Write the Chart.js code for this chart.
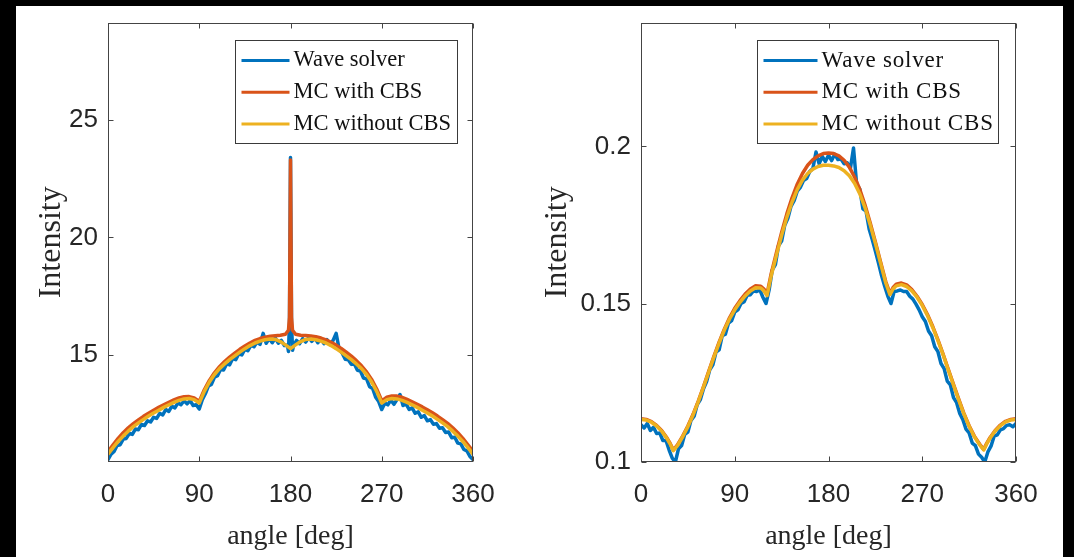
<!DOCTYPE html>
<html>
<head>
<meta charset="utf-8">
<script src="https://cdn.jsdelivr.net/npm/chart.js@4.4.1/dist/chart.umd.min.js"></script>
<style>
html, body { margin: 0; padding: 0; background: #000; }
body { width: 1074px; height: 557px; position: relative; overflow: hidden; }
#paper { position: absolute; left: 16px; top: 6px; width: 1047px; height: 551px; background: #fff; }
canvas { position: absolute; top: -3px; }
#leftPlot { left: 16px; }
#rightPlot { left: 536px; }
</style>
</head>
<body>
<div id="paper"></div>
<canvas id="leftPlot" width="520" height="560"></canvas>
<canvas id="rightPlot" width="527" height="560"></canvas>
<script>
// ticks and series names
const angleTicks = [0, 90, 180, 270, 360];
const leftIntensityTicks = [15, 20, 25];
const rightIntensityTicks = [0.1, 0.15, 0.2];
const seriesLabels = ['Wave solver', 'MC with CBS', 'MC without CBS'];
const seriesColors = ['#0072BD', '#D95319', '#EDB120'];

// ---- left panel ----
const leftWaveAngles = [0,3,6,9,12,15,18,21,24,27,30,33,36,39,42,45,48,51,54,57,60,63,66,69,72,75,78,81,84,87,
  90,93,96,99,102,105,108,111,114,117,120,123,126,129,132,135,138,141,144,147,150,153,156,159,162,165,168,171,174,177,
  178,179,180,181,182,
  183,186,189,192,195,198,201,204,207,210,213,216,219,222,225,228,231,234,237,240,243,246,249,252,255,258,261,264,267,270,
  273,276,279,282,285,288,291,294,297,300,303,306,309,312,315,318,321,324,327,330,333,336,339,342,345,348,351,354,357,360];
const leftWave = [10.55,10.78,10.90,11.15,11.18,11.42,11.45,11.66,11.62,11.85,
  11.82,12.05,12.00,12.20,12.15,12.35,12.30,12.52,12.45,12.68,
  12.60,12.82,12.75,12.96,12.88,13.05,12.92,13.06,12.85,12.88,
  12.70,13.10,13.35,13.68,13.75,14.05,14.12,14.38,14.36,14.62,
  14.58,14.85,14.80,15.05,15.00,15.25,15.18,15.42,15.35,15.55,
  15.45,15.92,15.50,15.70,15.52,15.72,15.50,15.62,15.40,15.42,
  15.15,16.4,23.4,16.4,15.2,
  15.40,15.62,15.48,15.70,15.55,15.75,15.58,15.72,15.52,15.70,
  15.48,15.65,15.45,15.62,15.92,15.25,15.08,14.82,14.80,14.60,
  14.62,14.35,14.32,14.02,13.98,13.65,13.58,13.20,13.02,12.68,
  12.95,12.88,13.08,12.90,13.10,13.32,12.85,12.92,12.68,12.75,
  12.52,12.58,12.35,12.42,12.20,12.25,12.05,12.08,11.88,11.90,
  11.70,11.72,11.48,11.50,11.25,11.22,10.98,10.92,10.68,10.55];

const leftCbsAngles = [0,5,10,15,20,25,30,35,40,45,50,55,60,65,70,75,80,85,90,95,100,105,110,115,120,125,130,135,140,145,150,155,160,165,170,175,
  178,179,180,181,182,
  185,190,195,200,205,210,215,220,225,230,235,240,245,250,255,260,265,270,275,280,285,290,295,300,305,310,315,320,325,330,335,340,345,350,355,360];
const leftCbs = [10.88,11.18,11.45,11.69,11.90,12.08,12.24,12.39,12.52,12.65,12.77,12.88,12.99,13.09,13.17,13.22,13.23,13.17,13.02,
  13.52,13.92,14.24,14.50,14.72,14.91,15.08,15.24,15.38,15.51,15.62,15.70,15.76,15.80,15.82,15.84,15.88,
  16.05,16.6,23.3,16.6,16.05,
  15.88,15.84,15.83,15.81,15.78,15.72,15.64,15.54,15.42,15.28,15.12,14.95,14.76,14.54,14.28,13.96,13.55,13.05,
  13.20,13.26,13.25,13.20,13.11,13.01,12.90,12.79,12.67,12.54,12.40,12.25,12.09,11.90,11.69,11.45,11.18,10.90];

const leftNoCbsAngles = [0,5,10,15,20,25,30,35,40,45,50,55,60,65,70,75,80,85,90,95,100,105,110,115,120,125,130,135,140,145,150,155,160,165,170,175,
  180,185,190,195,200,205,210,215,220,225,230,235,240,245,250,255,260,265,270,275,280,285,290,295,300,305,310,315,320,325,330,335,340,345,350,355,360];
const leftNoCbs = [10.78,11.06,11.32,11.55,11.76,11.95,12.11,12.26,12.40,12.53,12.65,12.77,12.88,12.98,13.07,13.13,13.15,13.10,12.96,
  13.45,13.85,14.17,14.42,14.62,14.80,14.96,15.12,15.27,15.40,15.51,15.59,15.65,15.68,15.66,15.57,15.43,
  15.27,15.43,15.57,15.66,15.68,15.65,15.59,15.51,15.40,15.27,15.12,14.96,14.80,14.62,14.42,14.17,13.85,13.45,12.96,
  13.10,13.15,13.13,13.07,12.98,12.88,12.77,12.65,12.53,12.40,12.26,12.11,11.95,11.76,11.55,11.32,11.06,10.78];

// ---- right panel ----
const rightWaveAngles = [0,3,6,9,12,15,18,21,24,27,30,33,36,39,42,45,48,51,54,57,60,63,66,69,72,75,78,81,84,87,
  90,93,96,99,102,105,108,111,114,117,120,123,126,129,132,135,138,141,144,147,150,153,156,159,162,165,168,171,174,177,
  180,183,186,189,192,195,198,201,204,207,210,213,216,219,222,225,228,231,234,237,240,243,246,249,252,255,258,261,264,267,
  270,273,276,279,282,285,288,291,294,297,300,303,306,309,312,315,318,321,324,327,330,333,336,339,342,345,348,351,354,357,360];
const rightWave = [0.1118,0.1108,0.1122,0.1100,0.1110,0.1090,0.1092,0.1068,0.1068,0.1038,
  0.1012,0.1000,0.1042,0.1052,0.1088,0.1095,0.1132,0.1145,0.1182,0.1198,
  0.1232,0.1255,0.1292,0.1308,0.1348,0.1355,0.1400,0.1405,0.1440,0.1448,
  0.1475,0.1482,0.1502,0.1508,0.1528,0.1530,0.1542,0.1540,0.1546,0.1522,
  0.1502,0.1545,0.1608,0.1625,0.1685,0.1700,0.1750,0.1772,0.1810,0.1828,
  0.1858,0.1870,0.1892,0.1898,0.1920,0.1930,0.1982,0.1945,0.1968,0.1952,
  0.1972,0.1955,0.1975,0.1958,0.1960,0.1945,0.1948,0.1930,0.1995,0.1880,
  0.1865,0.1802,0.1795,0.1738,0.1705,0.1668,0.1630,0.1590,0.1556,0.1525,
  0.1502,0.1540,0.1542,0.1545,0.1540,0.1540,0.1525,0.1516,0.1500,0.1482,
  0.1460,0.1445,0.1415,0.1400,0.1365,0.1350,0.1312,0.1296,0.1256,0.1244,
  0.1204,0.1188,0.1154,0.1134,0.1104,0.1092,0.1060,0.1052,0.1025,0.1015,
  0.1000,0.1032,0.1050,0.1082,0.1086,0.1102,0.1106,0.1116,0.1118,0.1112,
  0.1122];

const rightMcAngles = [0,5,10,15,20,25,28,31,35,40,45,50,55,60,65,70,75,80,85,90,95,100,105,110,115,118,121,
  125,130,135,140,145,150,155,160,165,170,175,180,185,190,195,200,205,210,215,220,225,230,235,239,242,
  245,250,255,260,265,270,275,280,285,290,295,300,305,310,315,320,325,329,332,335,340,345,350,355,360];
const rightCbs = [0.1137,0.1135,0.1128,0.1116,0.1099,0.1076,0.1059,0.1038,
  0.1054,0.1082,0.1114,0.1151,0.1193,0.1239,0.1287,0.1335,0.1380,0.1421,0.1457,0.1487,0.1511,0.1532,0.1548,0.1558,0.1557,
  0.1548,0.1533,
  0.1597,0.1663,0.1727,0.1786,0.1837,0.1880,0.1914,0.1940,0.1958,0.1970,0.1977,0.1979,0.1977,0.1970,0.1956,0.1934,0.1903,0.1864,0.1815,0.1758,0.1697,0.1634,0.1571,
  0.1534,0.1553,
  0.1563,0.1567,0.1561,0.1546,0.1525,0.1499,0.1467,0.1430,0.1388,0.1342,0.1294,0.1246,0.1199,0.1154,0.1115,0.1082,0.1057,
  0.1040,0.1060,
  0.1077,0.1100,0.1117,0.1129,0.1135,0.1137];
const rightNoCbs = [0.1135,0.1133,0.1126,0.1114,0.1097,0.1074,0.1057,0.1036,
  0.1052,0.1080,0.1112,0.1149,0.1191,0.1237,0.1285,0.1332,0.1377,0.1418,0.1453,0.1482,0.1506,0.1526,0.1542,0.1552,0.1551,
  0.1542,0.1527,
  0.1590,0.1655,0.1718,0.1775,0.1823,0.1863,0.1893,0.1914,0.1928,0.1936,0.1940,0.1940,0.1938,0.1933,0.1923,0.1907,0.1883,0.1850,0.1806,0.1752,0.1693,0.1630,0.1567,
  0.1530,0.1548,
  0.1558,0.1562,0.1556,0.1542,0.1522,0.1496,0.1464,0.1427,0.1385,0.1340,0.1292,0.1244,0.1197,0.1152,0.1113,0.1080,0.1055,
  0.1038,0.1058,
  0.1075,0.1098,0.1115,0.1127,0.1133,0.1135];

const textColor = '#262626';

function points(xs, ys) {
    return xs.map((x, i) => ({ x: x, y: ys[i] }));
}

// MATLAB style box with inward ticks, plus the boxed legend
const matlabAxes = {
    id: 'matlabAxes',
    afterDatasetsDraw(chart, args, opts) {
        const { ctx, chartArea: a, scales } = chart;
        const L = Math.round(a.left) + 0.5, R = Math.round(a.right) - 0.5;
        const T = Math.round(a.top) + 0.5, B = Math.round(a.bottom) - 0.5;
        ctx.save();
        ctx.strokeStyle = '#444';
        ctx.lineWidth = 1;
        ctx.strokeRect(L, T, R - L, B - T);
        ctx.beginPath();
        scales.x.ticks.forEach(t => {
            const px = Math.round(scales.x.getPixelForValue(t.value)) + 0.5;
            ctx.moveTo(px, B); ctx.lineTo(px, B - 5);
            ctx.moveTo(px, T); ctx.lineTo(px, T + 5);
        });
        scales.y.ticks.forEach(t => {
            const py = Math.round(scales.y.getPixelForValue(t.value)) + 0.5;
            ctx.moveTo(L, py); ctx.lineTo(L + 5, py);
            ctx.moveTo(R, py); ctx.lineTo(R - 5, py);
        });
        ctx.stroke();

        // legend
        const bx = Math.round(a.right - opts.right - opts.width) + 0.5;
        const by = Math.round(a.top + opts.top) + 0.5;
        ctx.fillStyle = '#fff';
        ctx.fillRect(bx, by, opts.width, opts.height);
        ctx.strokeStyle = '#3a3a3a';
        ctx.strokeRect(bx, by, opts.width, opts.height);
        ctx.font = opts.font;
        ctx.letterSpacing = opts.spacing;
        ctx.textBaseline = 'middle';
        ctx.textAlign = 'left';
        chart.data.datasets.forEach((ds, i) => {
            const ry = by + opts.firstRow + i * opts.rowGap;
            ctx.strokeStyle = ds.borderColor;
            ctx.lineWidth = 3;
            ctx.beginPath();
            ctx.moveTo(bx + opts.pad, ry);
            ctx.lineTo(bx + opts.pad + opts.sample, ry);
            ctx.stroke();
            ctx.fillStyle = '#111';
            ctx.fillText(ds.label, bx + opts.pad + opts.sample + opts.gap, ry);
        });
        ctx.restore();
    }
};

function makeChart(id, cfg) {
    const datasets = [
        { label: seriesLabels[0], data: points(cfg.waveX, cfg.waveY), borderColor: seriesColors[0], borderWidth: 3.5, order: 3 },
        { label: seriesLabels[1], data: points(cfg.cbsX, cfg.cbsY), borderColor: seriesColors[1], borderWidth: 3.5, order: 2 },
        { label: seriesLabels[2], data: points(cfg.noX, cfg.noY), borderColor: seriesColors[2], borderWidth: 3.5, order: 1 }
    ];
    datasets.forEach(d => {
        d.pointRadius = 0;
        d.tension = 0;
        d.fill = false;
        d.borderJoinStyle = 'round';
        d.borderCapStyle = 'round';
    });

    return new Chart(document.getElementById(id), {
        type: 'line',
        data: { datasets: datasets },
        plugins: [matlabAxes],
        options: {
            responsive: false,
            animation: false,
            layout: { padding: { top: 0, right: cfg.padRight, left: 0, bottom: 0 } },
            plugins: {
                legend: { display: false },
                tooltip: { enabled: false },
                matlabAxes: cfg.legend
            },
            scales: {
                x: {
                    type: 'linear',
                    min: 0,
                    max: 360,
                    afterBuildTicks: s => { s.ticks = angleTicks.map(v => ({ value: v })); },
                    afterFit: s => { s.height = 95; },
                    grid: { display: false, drawTicks: false },
                    border: { display: false },
                    ticks: {
                        autoSkip: false, maxRotation: 0, padding: 17, color: textColor,
                        font: { family: '"Liberation Sans", Arial, sans-serif', size: 26 }
                    },
                    title: {
                        display: true, text: 'angle [deg]', color: textColor,
                        font: { family: '"Liberation Serif", "Times New Roman", serif', size: 28 },
                        padding: { top: 0, bottom: 4 }
                    }
                },
                y: {
                    type: 'linear',
                    min: cfg.yMin,
                    max: cfg.yMax,
                    afterBuildTicks: s => { s.ticks = cfg.yTicks.map(v => ({ value: v })); },
                    afterFit: s => { s.width = cfg.yWidth; },
                    grid: { display: false, drawTicks: false },
                    border: { display: false },
                    ticks: {
                        padding: 10, color: textColor,
                        font: { family: '"Liberation Sans", Arial, sans-serif', size: 26 },
                        callback: v => String(+v.toFixed(4))
                    },
                    title: {
                        display: true, text: 'Intensity', color: textColor,
                        font: { family: '"Liberation Serif", "Times New Roman", serif', size: 32 },
                        padding: { top: cfg.yTitlePad, bottom: 0 }
                    }
                }
            }
        }
    });
}

makeChart('leftPlot', {
    waveX: leftWaveAngles, waveY: leftWave,
    cbsX: leftCbsAngles, cbsY: leftCbs,
    noX: leftNoCbsAngles, noY: leftNoCbs,
    yMin: 10.447, yMax: 29.14, yTicks: leftIntensityTicks,
    yWidth: 92, padRight: 63, yTitlePad: 16,
    legend: { width: 222, height: 103, right: 16, top: 17, pad: 6, sample: 48, gap: 4,
              firstRow: 20, rowGap: 31.7, font: '22.5px "Liberation Serif"', spacing: '0px' }
});

makeChart('rightPlot', {
    waveX: rightWaveAngles, waveY: rightWave,
    cbsX: rightMcAngles, cbsY: rightCbs,
    noX: rightMcAngles, noY: rightNoCbs,
    yMin: 0.1, yMax: 0.2392, yTicks: rightIntensityTicks,
    yWidth: 105, padRight: 47, yTitlePad: 2,
    legend: { width: 241, height: 103, right: 18.5, top: 17, pad: 6, sample: 54, gap: 4,
              firstRow: 20, rowGap: 31.7, font: '23px "Liberation Serif"', spacing: '0.8px' }
});
</script>
</body>
</html>
